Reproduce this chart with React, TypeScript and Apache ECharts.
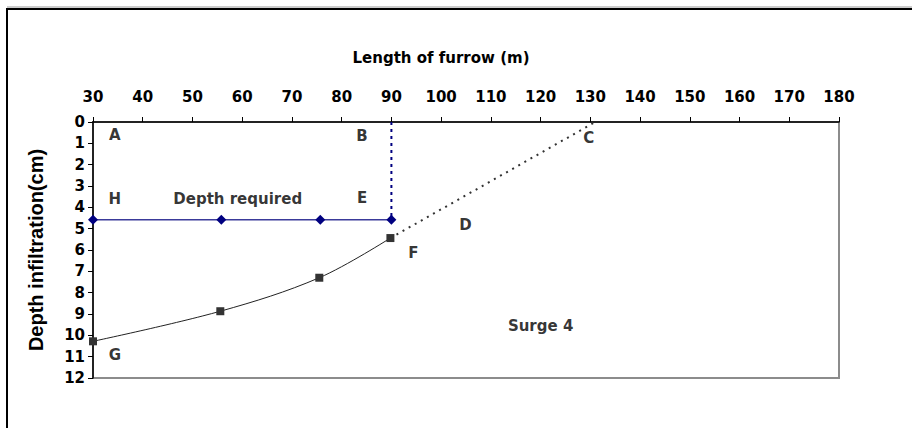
import React, { useEffect, useRef } from "react";
import * as echarts from "echarts";

const xTicks = [30, 180, 10];
const yTicks = [0, 12, 1];
const requiredX = [30, 55.8, 75.7, 90];
const requiredDepth = [4.58, 4.58, 4.58, 4.58];
const infilX = [30, 55.6, 75.5, 89.8];
const infilDepth = [10.28, 8.87, 7.3, 5.44];
const extensionX = [89.8, 131];
const extensionDepth = [5.44, 0];
const verticalX = [90, 90];
const verticalDepth = [0, 4.58];
const labelNames = ["A", "B", "C", "H", "Depth required", "E", "D", "F", "G", "Surge 4"];
const labelX = [34.4, 84.1, 129.7, 34.4, 59.1, 84.1, 104.9, 94.4, 34.4, 120];
const labelY = [0.6, 0.65, 0.75, 3.6, 3.6, 3.55, 4.85, 6.15, 10.9, 9.55];

const WIDE = "'DejaVu Sans', 'Liberation Sans', Arial, sans-serif";
const ARIAL = "'Liberation Sans', Arial, sans-serif";

export default function App() {
  const ref = useRef<HTMLDivElement>(null);
  useEffect(() => {
    if (!ref.current) return;
    const chart = echarts.init(ref.current, null, { renderer: "svg" });
    const pair = (xs: number[], ys: number[]) => xs.map((x, i) => [x, ys[i]]);
    chart.setOption({
      animation: false,
      backgroundColor: "#ffffff",
      grid: {
        left: 93,
        right: 73,
        top: 122,
        bottom: 50,
        show: true,
        borderColor: "#8c8c8c",
        borderWidth: 2,
        backgroundColor: "transparent",
      },
      xAxis: {
        type: "value",
        position: "top",
        min: xTicks[0],
        max: xTicks[1],
        interval: xTicks[2],
        name: "Length of furrow (m)",
        nameLocation: "middle",
        nameGap: 57,
        nameTextStyle: {
          fontFamily: WIDE,
          fontWeight: "bold",
          fontSize: 15,
          color: "#000",
          padding: [0, 50, 0, 0],
        },
        axisLine: { show: true, onZero: false, lineStyle: { color: "#000", width: 1.5 } },
        axisTick: { show: true, inside: false, length: 5, lineStyle: { color: "#000" } },
        axisLabel: { margin: 18, fontFamily: WIDE, fontWeight: "bold", fontSize: 15, color: "#000" },
        splitLine: { show: false },
      },
      yAxis: {
        type: "value",
        inverse: true,
        min: yTicks[0],
        max: yTicks[1],
        interval: yTicks[2],
        name: "Depth infiltration(cm)",
        nameLocation: "middle",
        nameGap: 47,
        nameRotate: 90,
        nameTextStyle: { fontFamily: ARIAL, fontWeight: "bold", fontSize: 20, color: "#000" },
        axisLine: { show: true, onZero: false, lineStyle: { color: "#000", width: 1.5 } },
        axisTick: { show: true, inside: false, length: 5, lineStyle: { color: "#000" } },
        axisLabel: { margin: 8, fontFamily: WIDE, fontWeight: "bold", fontSize: 15, color: "#000" },
        splitLine: { show: false },
      },
      graphic: [
        {
          type: "rect",
          shape: { x: 7, y: 9, width: 1000, height: 1000 },
          style: { fill: "none", stroke: "#000", lineWidth: 2 },
          silent: true,
        },
        {
          type: "line",
          shape: { x1: 7, y1: 7, x2: 912, y2: 7 },
          style: { stroke: "#9a9a9a", lineWidth: 1 },
          silent: true,
        },
      ],
      series: [
        {
          type: "line",
          data: pair(verticalX, verticalDepth),
          symbol: "none",
          lineStyle: { color: "#000080", width: 2, type: [3, 4] },
          z: 3,
        },
        {
          type: "line",
          data: pair(extensionX, extensionDepth),
          symbol: "none",
          lineStyle: { color: "#333333", width: 2, type: [2, 5] },
          z: 3,
        },
        {
          type: "line",
          data: pair(requiredX, requiredDepth),
          symbol: "diamond",
          symbolSize: 10,
          itemStyle: { color: "#000080" },
          lineStyle: { color: "#3a3a9a", width: 1.5 },
          z: 4,
        },
        {
          type: "line",
          data: pair(infilX, infilDepth),
          smooth: 0.35,
          symbol: "rect",
          symbolSize: 8,
          itemStyle: { color: "#333333" },
          lineStyle: { color: "#222222", width: 1 },
          z: 4,
        },
        {
          type: "scatter",
          symbolSize: 0,
          data: labelNames.map((n, i) => ({ name: n, value: [labelX[i], labelY[i]] })),
          label: {
            show: true,
            position: "inside",
            formatter: "{b}",
            fontFamily: WIDE,
            fontWeight: "bold",
            fontSize: 15,
            color: "#000",
          },
          z: 5,
        },
      ],
    });
    return () => chart.dispose();
  }, []);
  return (
    <div
      ref={ref}
      style={{ position: "absolute", left: 0, top: 0, width: 912, height: 428 }}
    />
  );
}
